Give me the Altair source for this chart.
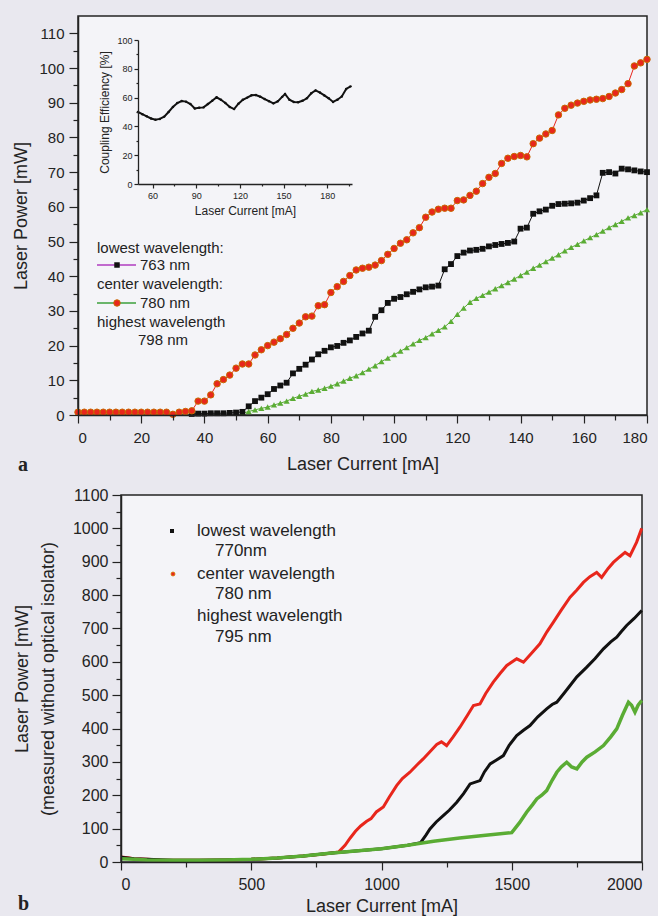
import altair as alt
import pandas as pd

FONT = "Liberation Sans"
INK = "#232323"

# ---------------- Panel a : power vs current (mW, mA) ----------------
a_current_red = list(range(0, 181, 2))
a_power_red = [0.8, 0.8, 0.8, 0.8, 0.8, 0.8, 0.8, 0.8, 0.8, 0.8, 0.8, 0.8, 0.8, 0.8, 0.8,
               0.2, 0.8, 1.0, 1.2, 4.0, 4.0, 5.8, 9.0, 10.2, 11.5, 13.5, 14.7, 14.7, 17.3, 18.8,
               20.0, 21.0, 22.0, 23.2, 25.0, 26.5, 28.3, 28.5, 31.5, 31.8, 35.3, 37.0, 38.5, 40.2,
               41.8, 42.3, 42.6, 43.2, 44.5, 46.3, 48.0, 49.5, 50.5, 52.5, 54.0, 57.0, 58.5, 59.3,
               59.6, 59.6, 61.8, 62.0, 63.3, 64.5, 66.7, 68.5, 69.6, 72.5, 74.0, 74.5, 74.8, 74.4,
               78.2, 79.8, 81.0, 82.0, 86.5, 88.4, 89.3, 89.9, 90.4, 90.8, 91.0, 91.2, 91.8, 92.8,
               93.8, 95.5, 100.6, 101.5, 102.5]

a_current_black = list(range(36, 181, 2))
a_power_black = [0.3, 0.4, 0.4, 0.5, 0.5, 0.5, 0.6, 0.7,
                 0.9, 2.5, 4.0, 5.0, 6.0, 7.5, 8.5, 9.3, 12.0, 13.3, 14.5, 16.0, 17.5, 18.5, 19.5,
                 19.9, 20.8, 21.5, 22.5, 23.5, 24.3, 28.3, 30.2, 32.3, 33.5, 34.0, 34.8, 35.5, 36.2,
                 36.8, 37.0, 37.3, 42.0, 43.5, 45.8, 46.8, 47.4, 47.6, 47.9, 48.6, 49.0, 49.3, 49.6,
                 50.0, 53.7, 54.0, 58.0, 58.7, 59.2, 60.3, 60.8, 60.9, 61.0, 61.2, 61.8, 62.5, 63.3,
                 69.8, 70.0, 69.6, 71.0, 70.8, 70.5, 70.2, 70.0]

a_current_green = list(range(52, 181, 2))
a_power_green = [0.5, 1.0, 1.5, 1.9, 2.3, 2.9, 3.4, 4.0, 4.8, 5.4, 6.0, 6.8, 7.2, 7.7, 8.3, 9.0,
                 9.8, 10.6, 11.3, 12.2, 13.2, 14.2, 15.4, 16.4, 17.4, 18.4, 19.4, 20.5, 21.5, 22.3,
                 23.4, 24.4, 25.4, 27.0, 29.0, 30.8, 32.5, 33.6, 34.5, 35.4, 36.4, 37.3, 38.2, 39.2,
                 40.2, 41.2, 42.3, 43.2, 44.2, 45.2, 46.2, 47.3, 48.3, 49.2, 50.2, 51.1, 52.0, 53.0,
                 54.0, 54.9, 55.8, 56.8, 57.5, 58.3, 59.2]

# inset: coupling efficiency
ce_current = [50, 53, 56, 59, 62, 65, 68, 71, 74, 77, 80, 83, 86, 89, 92, 95, 98, 101, 104, 107,
              110, 113, 116, 119, 122, 125, 128, 131, 134, 137, 140, 143, 146, 149, 151, 154, 157,
              160, 163, 166, 169, 172, 175, 178, 181, 184, 187, 190, 193, 196]
ce_value = [50.0, 48.5, 47.0, 45.5, 44.6, 45.2, 46.8, 50.0, 53.5, 56.2, 57.6, 57.2, 55.5, 52.5,
            53.0, 53.2, 55.5, 57.8, 60.2, 58.5, 56.3, 53.5, 52.0, 55.8, 58.5, 60.0, 61.6, 61.8,
            60.6, 59.0, 57.5, 56.0, 57.4, 60.5, 62.5, 58.5, 57.0, 56.8, 57.8, 59.5, 63.0, 65.0,
            63.5, 61.5, 59.5, 57.0, 58.5, 60.8, 66.0, 67.8]

legend_a = ["lowest wavelength:", "763 nm", "center wavelength:", "780 nm",
            "highest wavelength", "798 nm"]

# ---------------- Panel b ----------------
b_red_current = [0, 25, 50, 100, 150, 200, 300, 400, 500, 600, 700, 780, 835, 860, 880, 900, 920,
                 943, 960, 980, 1007, 1030, 1058, 1080, 1109, 1135, 1160, 1185, 1212, 1230, 1250,
                 1275, 1301, 1330, 1353, 1378, 1400, 1429, 1455, 1481, 1519, 1545, 1575, 1608,
                 1635, 1660, 1690, 1724, 1750, 1775, 1800, 1826, 1845, 1870, 1890, 1915, 1935,
                 1954, 1979, 1999]
b_red_power = [15, 13, 10, 8, 6, 5, 5, 6, 8, 12, 18, 24, 30, 50, 72, 92, 108, 122, 130, 150,
               165, 195, 229, 250, 269, 290, 309, 330, 352, 360, 349, 375, 404, 440, 469, 474,
               505, 539, 565, 589, 609, 599, 625, 654, 690, 719, 755, 794, 815, 838, 855, 868,
               853, 880, 898, 915, 928, 918, 958, 1000]

b_black_current = [0, 50, 100, 200, 300, 400, 500, 600, 700, 800, 900, 1000, 1100, 1150, 1170,
                   1186, 1210, 1237, 1260, 1289, 1315, 1340, 1378, 1395, 1417, 1440, 1468, 1490,
                   1519, 1545, 1570, 1600, 1634, 1655, 1673, 1700, 1724, 1750, 1788, 1820, 1852,
                   1880, 1903, 1920, 1941, 1970, 1999]
b_black_power = [14, 10, 8, 5, 5, 6, 8, 12, 18, 26, 33, 40, 50, 58, 80, 99, 120, 139, 155, 179,
                 205, 234, 244, 270, 294, 305, 319, 350, 379, 395, 409, 435, 459, 472, 479, 505,
                 529, 555, 584, 610, 639, 660, 674, 690, 709, 730, 754]

b_green_current = [0, 50, 100, 200, 300, 400, 500, 600, 700, 800, 900, 1000, 1100, 1200, 1300,
                   1400, 1500, 1530, 1557, 1580, 1596, 1615, 1634, 1655, 1673, 1690, 1711, 1730,
                   1750, 1770, 1788, 1820, 1852, 1880, 1903, 1925, 1948, 1960, 1973, 1985, 1999]
b_green_power = [10, 8, 6, 5, 5, 6, 8, 12, 18, 26, 33, 40, 50, 62, 72, 80, 88, 118, 149, 172,
                 189, 200, 214, 245, 269, 285, 299, 285, 279, 300, 314, 330, 349, 375, 399, 440,
                 479, 470, 449, 470, 484]

legend_b = ["lowest wavelength", "770nm", "center wavelength", "780 nm",
            "highest wavelength", "795 nm"]
panel_labels = ["a", "b"]

RED, BLACK, GREEN = "#e8261c", "#111111", "#5aac34"
PLOT_FILL = "#f4f4f8"
one = pd.DataFrame({"k": [0]})


def txt(s, x, y, size, font=FONT, weight="normal"):
    return alt.Chart(one).mark_text(
        text=s, align="left", baseline="middle", font=font, fontSize=size,
        fontWeight=weight, color=INK
    ).encode(x=alt.value(x), y=alt.value(y))


def minor_axis(step_all, step_lab, lo, hi, title, major, minor, lab_size, **kw):
    return alt.Axis(
        values=list(range(lo, hi + 1, step_all)),
        labelExpr=f"datum.value % {step_lab} === 0 ? format(datum.value, 'd') : ''",
        tickSize={"condition": {"test": f"datum.value % {step_lab} === 0", "value": major},
                  "value": minor},
        title=title, labelFontSize=lab_size, grid=False, zindex=1, **kw)


# ---------- panel a ----------
df_r = pd.DataFrame({"c": a_current_red, "p": a_power_red})
df_k = pd.DataFrame({"c": a_current_black, "p": a_power_black})
df_g = pd.DataFrame({"c": a_current_green, "p": a_power_green})

xa = alt.X("c:Q", scale=alt.Scale(domain=[0, 180], nice=False),
           axis=minor_axis(10, 20, 0, 180, "Laser Current [mA]", 8, 5, 15,
                           labelPadding=7, titlePadding=10))
ya = alt.Y("p:Q", scale=alt.Scale(domain=[0, 115], nice=False),
           axis=minor_axis(5, 10, 0, 110, "Laser Power [mW]", 9, 5, 15,
                           labelPadding=5, titlePadding=8))


def series(df, color, pmark):
    ln = alt.Chart(df).mark_line(color=color, strokeWidth=1).encode(x=xa, y=ya)
    pt = alt.Chart(df).mark_point(**pmark).encode(x=xa, y=ya)
    return [ln, pt]


layers_a = []
layers_a += series(df_g, GREEN, dict(shape="triangle-up", filled=True, size=38, color=GREEN, opacity=1))
layers_a += series(df_k, BLACK, dict(shape="square", filled=True, size=34, color=BLACK, opacity=1))
layers_a += series(df_r, RED, dict(shape="circle", filled=True, size=42, color=RED, opacity=1,
                                   stroke="#c86a00", strokeWidth=1))

# legend a (pixel positions relative to plot origin)
leg_a = [
    txt(legend_a[0], 19, 232, 15),
    alt.Chart(one).mark_rule(color="#b03cc0", strokeWidth=1.5).encode(
        x=alt.value(19), x2=alt.value(58), y=alt.value(249)),
    alt.Chart(one).mark_point(shape="square", filled=True, size=30, color=BLACK, opacity=1).encode(
        x=alt.value(39), y=alt.value(249)),
    txt(legend_a[1], 62, 249, 15),
    txt(legend_a[2], 19, 268, 15),
    alt.Chart(one).mark_rule(color="#3ca03c", strokeWidth=1.5).encode(
        x=alt.value(19), x2=alt.value(58), y=alt.value(287)),
    alt.Chart(one).mark_point(shape="circle", filled=True, size=42, color=RED, opacity=1,
                              stroke="#c86a00", strokeWidth=1).encode(
        x=alt.value(39), y=alt.value(287)),
    txt(legend_a[3], 62, 287, 15),
    txt(legend_a[4], 19, 306, 15),
    txt(legend_a[5], 60, 324, 15),
    txt(panel_labels[0], -60, 449, 20, font="Liberation Serif", weight="bold"),
]
main_a = alt.layer(*layers_a, *leg_a)

# inset
df_ce = pd.DataFrame({"c": ce_current, "e": ce_value})
xi = alt.X("c:Q", scale=alt.Scale(domain=[50, 197], range=[60, 274], nice=False),
           axis=alt.Axis(values=list(range(60, 196, 15)),
                         labelExpr="datum.value % 30 === 0 ? datum.label : ''",
                         tickSize={"condition": {"test": "datum.value % 30 === 0", "value": 4},
                                   "value": 2},
                         orient="bottom", offset=-231, title="Laser Current [mA]",
                         labelFontSize=9, titleFontSize=12, labelPadding=3, titlePadding=5,
                         domainWidth=1.3, grid=False, zindex=1))
yi = alt.Y("e:Q", scale=alt.Scale(domain=[0, 100], range=[168, 24], nice=False),
           axis=alt.Axis(values=list(range(0, 101, 10)),
                         labelExpr="datum.value % 20 === 0 ? datum.label : ''",
                         tickSize={"condition": {"test": "datum.value % 20 === 0", "value": 4},
                                   "value": 2},
                         orient="left", offset=-60, title="Coupling Efficiency [%]",
                         labelFontSize=9, titleFontSize=12, labelPadding=2, titlePadding=5,
                         domainWidth=1.3, grid=False, zindex=1))
inset = alt.layer(
    alt.Chart(df_ce).mark_line(color=BLACK, strokeWidth=2).encode(x=xi, y=yi),
    alt.Chart(df_ce).mark_point(filled=True, size=6, color=BLACK, opacity=1).encode(x=xi, y=yi),
)

panel_a = alt.layer(main_a, inset).resolve_scale(x="independent", y="independent").properties(
    width=569, height=399)

# ---------- panel b ----------
db_r = pd.DataFrame({"c": b_red_current, "p": b_red_power})
db_k = pd.DataFrame({"c": b_black_current, "p": b_black_power})
db_g = pd.DataFrame({"c": b_green_current, "p": b_green_power})

xb = alt.X("c:Q", scale=alt.Scale(domain=[0, 2000], nice=False),
           axis=minor_axis(250, 500, 0, 2000, "Laser Current [mA]", 8, 5, 16,
                           labelPadding=6, titlePadding=5))
yb = alt.Y("p:Q", scale=alt.Scale(domain=[0, 1100], nice=False),
           axis=minor_axis(50, 100, 0, 1100, ["Laser Power [mW]", "(measured without optical isolator)"],
                           9, 5, 16, labelPadding=4, titlePadding=15, titleLineHeight=26))

leg_b = [
    alt.Chart(one).mark_point(shape="square", filled=True, size=16, color=BLACK, opacity=1).encode(
        x=alt.value(51), y=alt.value(36)),
    txt(legend_b[0], 76, 36, 17),
    txt(legend_b[1], 94, 56, 17),
    alt.Chart(one).mark_point(shape="circle", filled=True, size=16, color=RED, opacity=1,
                              stroke="#d08000", strokeWidth=0.8).encode(
        x=alt.value(52), y=alt.value(79)),
    txt(legend_b[2], 76, 79, 17),
    txt(legend_b[3], 94, 99, 17),
    txt(legend_b[4], 76, 121, 17),
    txt(legend_b[5], 94, 142, 17),
    txt(panel_labels[1], -103, 409, 20, font="Liberation Serif", weight="bold"),
]

panel_b = alt.layer(
    alt.Chart(db_r).mark_line(color=RED, strokeWidth=3).encode(x=xb, y=yb),
    alt.Chart(db_k).mark_line(color=BLACK, strokeWidth=3).encode(x=xb, y=yb),
    alt.Chart(db_g).mark_line(color=GREEN, strokeWidth=3.5).encode(x=xb, y=yb),
    *leg_b,
).properties(width=521, height=367)

# an invisible narrow cell pushes panel b's plot 43 px to the right of panel a's
spacer = alt.Chart(one).mark_point(opacity=0).encode(
    x=alt.value(0), y=alt.value(0)
).properties(width=1, height=1,
             view=alt.ViewBackground(stroke="transparent", fill="transparent", strokeWidth=0))
row_b = alt.hconcat(spacer, panel_b, spacing=42, bounds="flush")

chart = alt.vconcat(panel_a, row_b, spacing=10).properties(
    background="#e9e8ef",
    padding={"left": 12, "top": 15, "right": 5, "bottom": 0},
).configure_view(
    stroke=INK, strokeWidth=1.5, fill=PLOT_FILL
).configure_axis(
    labelFont=FONT, titleFont=FONT, labelColor=INK, titleColor=INK,
    domainColor=INK, tickColor=INK, domainWidth=1.5, tickWidth=1.2,
    titleFontSize=18, titleFontWeight="normal"
)

chart.save("out.html", embed_options={"renderer": "svg", "actions": False})
